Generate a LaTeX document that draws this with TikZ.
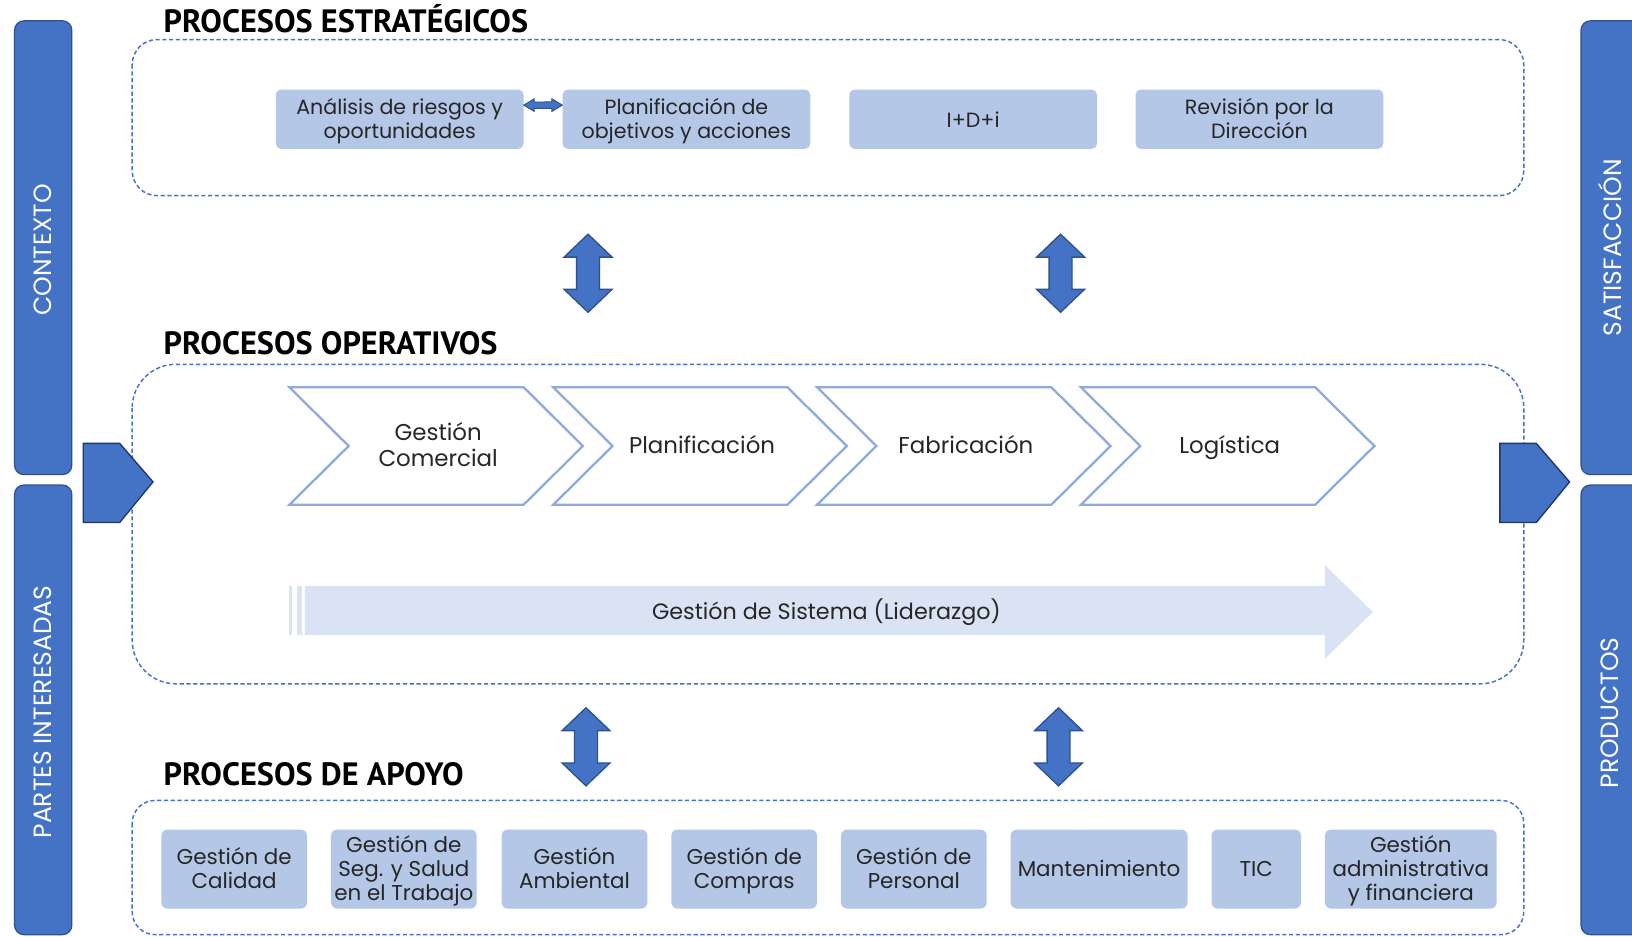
\documentclass[tikz,border=0pt]{standalone}
\usepackage{fontspec}
\setmainfont{Poppins}
\newfontfamily\titlefont{PT Sans}
\usetikzlibrary{calc}
\definecolor{bluemain}{HTML}{4472C4}
\definecolor{bluedark}{HTML}{2F528F}
\definecolor{bluedeep}{HTML}{1F3864}
\definecolor{boxfill}{HTML}{B4C7E7}
\definecolor{chevline}{HTML}{8FAADC}
\definecolor{lightarrow}{HTML}{DAE3F3}
\definecolor{txt}{HTML}{262626}
\newcommand\vdarrow[2]{% #1 top coordinate, #2 bottom coordinate
  \draw[blockarrow] (#1) -- ++(23,22) -- ++(-12,0) -- ($(#2)+(11,-22)$) -- ++(12,0) -- (#2)
    -- ++(-23,-22) -- ++(12,0) -- ($(#1)+(-11,22)$) -- ++(-12,0) -- cycle;}
\begin{document}
\begin{tikzpicture}[x=1pt,y=-1pt,
  bar/.style={fill=bluemain, draw=bluedark, line width=1.2pt, rounded corners=9pt},
  bartext/.style={white, font=\fontsize{24}{28}\selectfont, rotate=90},
  dashbox/.style={draw=bluemain, line width=1.4pt, dash pattern=on 4pt off 2.5pt},
  title/.style={anchor=base west, inner sep=0, font=\titlefont\bfseries\fontsize{31}{34}\selectfont},
  struts/.style={execute at begin node=\strut, execute at end node=\strut},
  sbox/.style={fill=boxfill, rounded corners=5pt, minimum height=57pt, minimum width=238pt, inner sep=0},
  stext/.style={align=center, text=txt, struts, font=\fontsize{19.8}{23}\selectfont, inner sep=0},
  pbox/.style={fill=boxfill, rounded corners=6pt, minimum height=76pt, inner sep=0},
  ptext/.style={align=center, text=txt, struts, font=\fontsize{20.6}{23.5}\selectfont, inner sep=0},
  chev/.style={fill=white, draw=chevline, line width=2.2pt, line join=miter},
  chevtext/.style={align=center, text=txt, struts, font=\fontsize{22}{25}\selectfont},
  blockarrow/.style={fill=bluemain, draw=bluedark, line width=1.3pt, line join=miter},
  pent/.style={fill=bluemain, draw=bluedeep, line width=1.3pt, line join=miter},
  sistema/.style={fill=lightarrow, draw=none}
]
\useasboundingbox[fill=white] (0,0) rectangle (1568,900);

% side bars
\draw[bar] (14,20) rectangle (69,456);
\draw[bar] (14,466) rectangle (69,898);
\draw[bar] (1519,20) rectangle (1590,456);
\draw[bar] (1519,466) rectangle (1590,898);
\node[bartext] (contexto) at (41,240) {CONTEXTO};
\node[bartext] (partes) at (41,684) {PARTES INTERESADAS};
\node[bartext] (satisf) at (1547,238) {SATISFACCIÓN};
\node[bartext] (productos) at (1547,685) {PRODUCTOS};

% dashed containers
\draw[dashbox, rounded corners=24pt] (127,38) rectangle (1464,188);
\draw[dashbox, rounded corners=42pt] (127,350) rectangle (1464,657);
\draw[dashbox, rounded corners=22pt] (127,769) rectangle (1464,898);

% titles
\node[title] (tEst) at (157,31) {PROCESOS ESTRATÉGICOS};
\node[title] (tOp) at (157,341) {PROCESOS OPERATIVOS};
\node[title] (tAp) at (157,755) {PROCESOS DE APOYO};

% strategic boxes
\foreach \nm/\cx/\lab in {ar/384/{Análisis de riesgos y\\oportunidades},pl/659.5/{Planificación de\\objetivos y acciones},idi/935/{I+D+i},rev/1210/{Revisión por la\\Dirección}}{
  \node[sbox] (\nm) at (\cx,114.5) {};
  \node[stext] (\nm-t) at (\cx,117.5) {\lab};
}

% small double arrow between ar and pl
\path ([yshift=13.5pt]ar.east) coordinate (h1) ([yshift=13.5pt]pl.west) coordinate (h2);
\draw[blockarrow, line width=0.9pt] (h1) -- ++(10,-6) -- ++(0,3.2) -- ($(h2)+(-10,-3.2)$) -- ++(0,-2.8)
  -- (h2) -- ++(-10,6) -- ++(0,-2.8) -- ($(h1)+(10,3.2)$) -- ++(0,2.8) -- cycle;

% vertical double arrows
\coordinate (a1t) at (565,225); \coordinate (a1b) at (565,300);
\coordinate (a2t) at (1019,225); \coordinate (a2b) at (1019,300);
\coordinate (a3t) at (563,680); \coordinate (a3b) at (563,755);
\coordinate (a4t) at (1017,680); \coordinate (a4b) at (1017,755);
\vdarrow{a1t}{a1b}
\vdarrow{a2t}{a2b}
\vdarrow{a3t}{a3b}
\vdarrow{a4t}{a4b}

% chevrons
\foreach \i/\name/\lab in {0/c1/{Gestión\\Comercial},1/c2/{Planificación},2/c3/{Fabricación},3/c4/{Logística}}{
  \pgfmathsetmacro\xo{278+253.5*\i}
  \draw[chev] (\xo,372) -- ++(225,0) -- ++(57,56.5) -- ++(-57,56.5) -- ++(-225,0) -- ++(57,-56.5) -- cycle;
  \node[chevtext] (\name) at (\xo+143,431) {\lab};
}

% sistema arrow
\fill[sistema] (278,563) rectangle (281,610);
\fill[sistema] (285,563) rectangle (290,610);
\fill[sistema] (293,563) -- (1273,563) -- (1273,543) -- (1319,588) -- (1273,633) -- (1273,610) -- (293,610) -- cycle;
\node[chevtext, font=\fontsize{21.4}{25}\selectfont] (sist) at (794,589) {Gestión de Sistema (Liderazgo)};

% pentagons
\draw[pent] (80,426) -- (115,426) -- (147,463) -- (115,502) -- (80,502) -- cycle;
\draw[pent] (1441,426) -- (1476,426) -- (1508,463) -- (1476,502) -- (1441,502) -- cycle;

% support boxes
\foreach \nm/\cx/\w/\lab in {p1/225/140/{Gestión de\\Calidad},p2/388/140/{Gestión de\\Seg. y Salud\\en el Trabajo},p3/552/140/{Gestión\\Ambiental},p4/715/140/{Gestión de\\Compras},p5/878/140/{Gestión de\\Personal},p6/1056/170/{Mantenimiento},p7/1207/86/{TIC},p8/1355.5/165/{Gestión\\administrativa\\y financiera}}{
  \node[pbox, minimum width=\w pt] (\nm) at (\cx,835) {};
  \node[ptext] (\nm-t) at (\cx,837.5) {\lab};
}
\end{tikzpicture}
\end{document}
